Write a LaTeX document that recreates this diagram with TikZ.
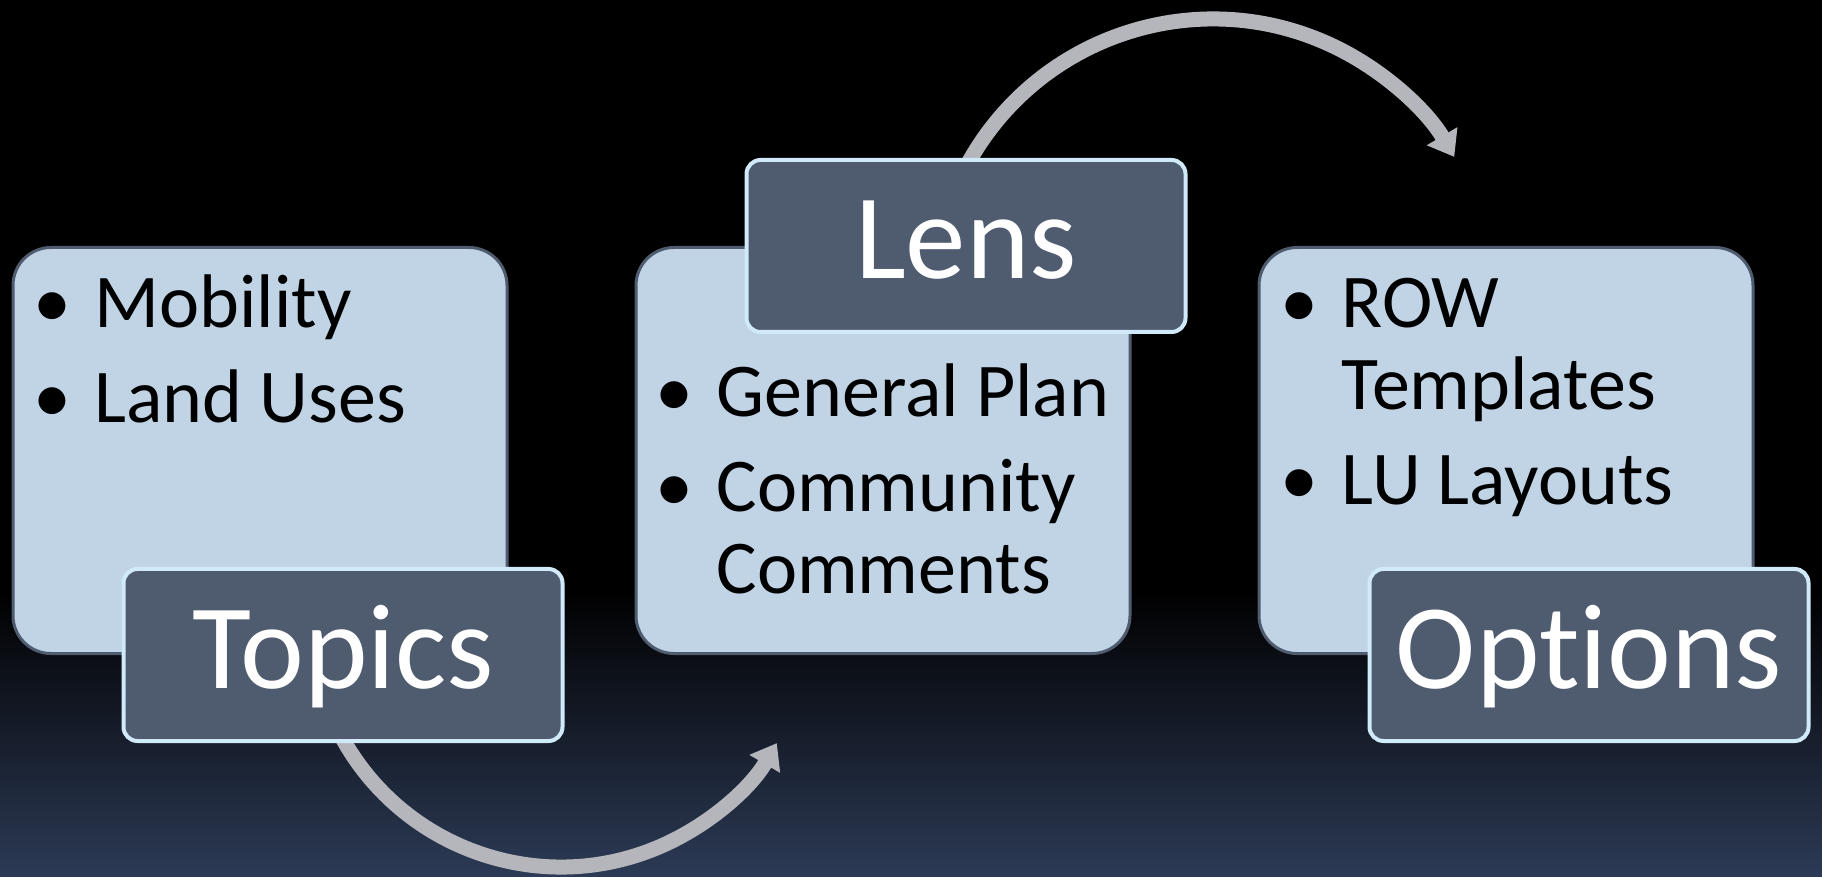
\documentclass[tikz,border=0pt]{standalone}
\usepackage{fontspec}
\setmainfont[Ligatures={NoCommon}]{Carlito}
\usetikzlibrary{arrows.meta,positioning}

\definecolor{panelfill}{RGB}{193,212,230}
\definecolor{paneledge}{RGB}{79,91,110}
\definecolor{tabfill}{RGB}{79,91,111}
\definecolor{tabedge}{RGB}{208,234,250}
\definecolor{arrowgray}{RGB}{180,182,188}
\definecolor{bgblue}{RGB}{44,58,85}

\newcommand{\bul}{\makebox[61pt][l]{\textbullet}}

\begin{document}
\begin{tikzpicture}[x=1pt,y=1pt,node distance=623pt,>={Triangle[width=34pt,length=24pt]}]
  \tikzstyle{panel}=[rectangle,rounded corners=38pt,line width=3pt,draw=paneledge,
              fill=panelfill,minimum width=494pt,minimum height=406pt]
  \tikzstyle{tab}=[rectangle,rounded corners=14pt,line width=4pt,draw=tabedge,
              fill=tabfill,minimum width=439pt,minimum height=172pt,inner sep=0pt,
              text=white,text height=90pt,text depth=24pt,font=\fontsize{121}{130}\selectfont]
  \tikzstyle{items}=[inner sep=0pt,anchor=base west,font=\fontsize{76}{82}\selectfont]
  \tikzstyle{turn}=[->,line width=15pt,draw=arrowgray]
    % background
    \fill[black] (0,0) rectangle (1822,876);
    \shade[top color=black,bottom color=bgblue] (0,0) rectangle (1822,286);
    \useasboundingbox (0,0) rectangle (1822,876);
    % curved arrows
    \coordinate (c1) at (561,259);
    \coordinate (c2) at (1213,577);
    \draw[turn] (c1) ++(205:250pt) arc[start angle=205,end angle=329.7,radius=250pt];
    \draw[turn] (c2) ++(152:280pt) arc[start angle=152,end angle=30.5,radius=280pt];
    % panels
    \node[panel] (box1) at (260,425.5) {};
    \node[panel] (box2) [right of=box1] {};
    \node[panel] (box3) [right of=box2] {};
    % bullet lists
    \node[items] (list1) at ([xshift=22pt,yshift=-82pt]box1.north west)
      {\parbox[t]{600pt}{\bul Mobility\par\vspace{13pt}\bul Land Uses}};
    \node[items] (list2) at ([xshift=21pt,yshift=-171pt]box2.north west)
      {\parbox[t]{600pt}{\bul General Plan\par\vspace{13pt}\bul Community\newline\hspace*{61pt}Comments}};
    \node[items] (list3) at ([xshift=23pt,yshift=-82pt]box3.north west)
      {\parbox[t]{600pt}{\bul ROW\newline\hspace*{61pt}Templates\par\vspace{13pt}\bul LU Layouts}};
    % tabs
    \node[tab] (topics) at ([xshift=83pt]box1.south) {Topics};
    \node[tab] (lens) at ([xshift=83pt]box2.north) {Lens};
    \node[tab] (options) at ([xshift=83pt]box3.south) {Options};
\end{tikzpicture}
\end{document}
